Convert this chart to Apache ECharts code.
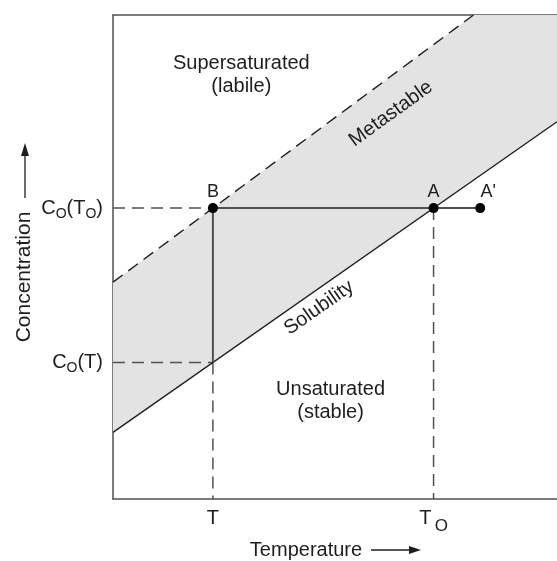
<!DOCTYPE html>
<html>
<head>
<meta charset="utf-8">
<script src="https://cdn.jsdelivr.net/npm/echarts@6/dist/echarts.min.js"></script>
<style>
  html, body { margin: 0; padding: 0; background: #fff; }
  #chart { width: 557px; height: 561px; }
</style>
</head>
<body>
<div id="chart"></div>
<script>
// Temperature positions of the two marked temperatures (T, T0)
const tempTicks = [22.5, 72.2];
const tempTickLabels = ['{b|T}', '{b|T} {s|O}'];
// Concentration levels C0(T) and C0(T0)
const concTicks = [28.2, 60.1];
const concTickLabels = ['{b|C}{s|O}{b|(T)}', '{b|C}{s|O}{b|(T}{s|O}{b|)}'];

// Solubility curve and metastable (supersolubility) limit
const solubility = [[0, 13.76], [100, 77.95]];
const metastableLimit = [[0, 44.8], [81.2, 100]];
// Upper edge of the metastable band, clipped at the top of the plot
const bandUpper = [[0, 44.8], [81.2, 100], [100, 100]];

// Cooling / evaporation path points
const pointNames = ['B', 'A', "A'"];
const pointTemps = [22.5, 72.2, 82.7];
const pointConc = [60.1, 60.1, 60.1];

// Region labels: [temperature, concentration, text, rotation]
const regionLabels = [
  [28.9, 87.6, 'Supersaturated\n(labile)', 0],
  [49.0, 20.2, 'Unsaturated\n(stable)', 0],
  [62.6, 79.6, 'Metastable', 36],
  [46.4, 39.5, 'Solubility', 35]
];

const ink = '#1e1e1e';
const axisColor = '#505050';
const dash = [12, 7];

const richBase = {
  b: { fontSize: 20, lineHeight: 34, color: ink, fontFamily: 'Liberation Sans' },
  s: { fontSize: 17, lineHeight: 17, verticalAlign: 'bottom', color: ink, fontFamily: 'Liberation Sans' }
};
const richY = {
  b: { fontSize: 20, lineHeight: 26, color: ink, fontFamily: 'Liberation Sans' },
  s: { fontSize: 14, lineHeight: 14, verticalAlign: 'bottom', color: ink, fontFamily: 'Liberation Sans' }
};

function seg(p, q) { return [p, q]; }

const B = [pointTemps[0], pointConc[0]];
const A = [pointTemps[1], pointConc[1]];
const Ap = [pointTemps[2], pointConc[2]];
const BT = [tempTicks[0], concTicks[0]];

const guideLines = [
  seg([0, concTicks[1]], B),
  seg([0, concTicks[0]], BT),
  seg(BT, [tempTicks[0], 0]),
  seg(A, [tempTicks[1], 0])
];

function lineSeries(data, color, width, type, z) {
  return {
    type: 'line', data: data, showSymbol: false, silent: true,
    lineStyle: { color: color, width: width, type: type },
    z: z || 3, animation: false
  };
}

const series = [];

// Shaded metastable zone between the two curves
const bandPolygon = bandUpper.concat(solubility.slice().reverse());
series.push({
  type: 'custom',
  silent: true,
  animation: false,
  z: 1,
  data: [0],
  renderItem: function (params, api) {
    const pts = bandPolygon.map(function (p) { return api.coord(p); });
    return {
      type: 'polygon',
      shape: { points: pts },
      style: { fill: '#e3e3e3', stroke: null }
    };
  }
});

guideLines.forEach(function (l) { series.push(lineSeries(l, axisColor, 1.5, dash, 2)); });
series.push(lineSeries(solubility, ink, 1.4, 'solid', 3));
series.push(lineSeries(metastableLimit, ink, 1.4, dash, 3));
series.push(lineSeries([B, Ap], axisColor, 2, 'solid', 3));
series.push(lineSeries([B, BT], axisColor, 2, 'solid', 3));

// Marked states
series.push({
  type: 'scatter',
  silent: true,
  animation: false,
  z: 5,
  symbolSize: 10,
  itemStyle: { color: '#000', opacity: 1 },
  data: pointNames.map(function (n, i) {
    return {
      value: [pointTemps[i], pointConc[i]],
      name: n,
      label: {
        show: true,
        position: 'top',
        distance: 2,
        offset: i === 2 ? [8, 0] : [0, 0],
        formatter: n,
        fontSize: 18,
        fontFamily: 'Liberation Sans',
        color: ink
      }
    };
  })
});

// Region and curve names
series.push({
  type: 'scatter',
  silent: true,
  animation: false,
  z: 6,
  symbolSize: 0,
  itemStyle: { opacity: 1 },
  data: regionLabels.map(function (r) {
    return {
      value: [r[0], r[1]],
      label: {
        show: true,
        position: 'inside',
        formatter: r[2],
        rotate: r[3],
        fontSize: 20,
        lineHeight: 23,
        align: 'center',
        verticalAlign: 'middle',
        fontFamily: 'Liberation Sans',
        color: ink
      }
    };
  })
});

const chart = echarts.init(document.getElementById('chart'), null, { renderer: 'canvas' });
chart.setOption({
  backgroundColor: '#fff',
  animation: false,
  grid: { left: 113, right: 0, top: 15, bottom: 62, containLabel: false },
  xAxis: [
    {
      type: 'value', min: 0, max: 100, position: 'bottom',
      axisLine: { show: true, onZero: false, lineStyle: { color: axisColor, width: 1.5 } },
      axisTick: { show: false },
      splitLine: { show: false },
      axisLabel: {
        customValues: tempTicks,
        margin: 2,
        formatter: function (v) { return tempTickLabels[tempTicks.indexOf(v)]; },
        rich: richBase
      }
    },
    {
      type: 'value', min: 0, max: 100, position: 'top',
      axisLine: { show: true, onZero: false, lineStyle: { color: axisColor, width: 1.5 } },
      axisTick: { show: false }, axisLabel: { show: false }, splitLine: { show: false }
    }
  ],
  yAxis: {
    type: 'value', min: 0, max: 100,
    axisLine: { show: true, onZero: false, lineStyle: { color: axisColor, width: 1.5 } },
    axisTick: { show: false },
    splitLine: { show: false },
    axisLabel: {
      customValues: concTicks,
      margin: 10,
      formatter: function (v) { return concTickLabels[concTicks.indexOf(v)]; },
      rich: richY
    }
  },
  graphic: [
    {
      type: 'text', x: 306, y: 550,
      style: { text: 'Temperature', fontSize: 20, fontFamily: 'Liberation Sans', fill: ink, align: 'center', verticalAlign: 'middle' }
    },
    { type: 'line', shape: { x1: 371, y1: 550, x2: 411, y2: 550 }, style: { stroke: ink, lineWidth: 1.3 } },
    { type: 'polygon', shape: { points: [[409, 546], [421, 550], [409, 554]] }, style: { fill: ink } },
    {
      type: 'text', x: 24, y: 277, rotation: Math.PI / 2,
      style: { text: 'Concentration', fontSize: 21, fontFamily: 'Liberation Sans', fill: ink, align: 'center', verticalAlign: 'middle' }
    },
    { type: 'line', shape: { x1: 25, y1: 198, x2: 25, y2: 154 }, style: { stroke: ink, lineWidth: 1.3 } },
    { type: 'polygon', shape: { points: [[21, 156], [25, 143], [29, 156]] }, style: { fill: ink } }
  ],
  series: series
});
</script>
</body>
</html>
